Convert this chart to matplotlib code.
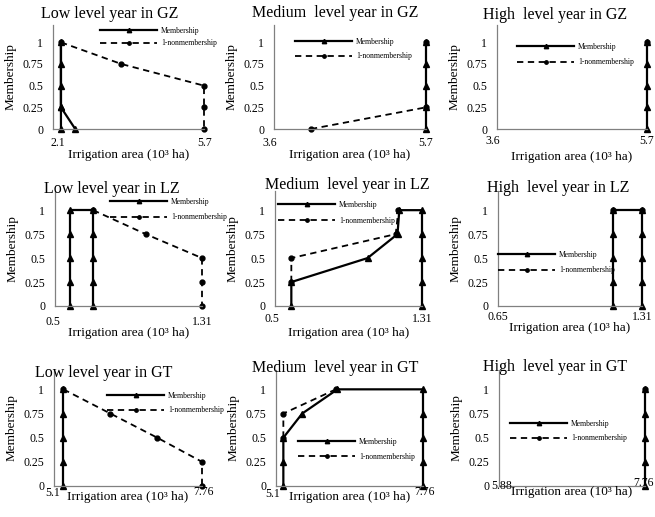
import matplotlib.pyplot as plt

plt.rcParams['font.family'] = ['Liberation Serif', 'DejaVu Serif']

W, H = 655, 517   # figure size in pixels

# Low level year in GZ
gz_low_mem_x = [2.1, 2.1, 2.1, 2.1, 2.1, 2.1, 2.46]
gz_low_mem_y = [0, 0.25, 0.5, 0.75, 1, 0.25, 0]
gz_low_non_x = [2.1, 3.62, 5.7, 5.7, 5.7]
gz_low_non_y = [1, 0.75, 0.5, 0.25, 0]

# Medium level year in GZ
gz_med_mem_x = [5.7, 5.7, 5.7, 5.7, 5.7]
gz_med_mem_y = [0, 0.25, 0.5, 0.75, 1]
gz_med_non_x = [4.11, 5.7, 5.7]
gz_med_non_y = [0, 0.25, 1]

# High level year in GZ
gz_high_mem_x = [5.7, 5.7, 5.7, 5.7, 5.7]
gz_high_mem_y = [0, 0.25, 0.5, 0.75, 1]
gz_high_non_x = [5.7]
gz_high_non_y = [1]

# Low level year in LZ
lz_low_mem_x = [0.58, 0.58, 0.58, 0.58, 0.58, 0.71, 0.71, 0.71, 0.71, 0.71]
lz_low_mem_y = [0, 0.25, 0.5, 0.75, 1, 1, 0.75, 0.5, 0.25, 0]
lz_low_non_x = [0.71, 1.0, 1.31, 1.31, 1.31]
lz_low_non_y = [1, 0.75, 0.5, 0.25, 0]

# Medium level year in LZ
lz_med_mem_x = [0.59, 0.59, 1.01, 1.175, 1.185, 1.31, 1.31, 1.31, 1.31, 1.31]
lz_med_mem_y = [0, 0.25, 0.5, 0.75, 1, 1, 0.75, 0.5, 0.25, 0]
lz_med_non_x = [0.59, 0.59, 1.165, 1.18]
lz_med_non_y = [0.25, 0.5, 0.75, 1]

# High level year in LZ
lz_high_mem_x = [1.175, 1.175, 1.175, 1.175, 1.175, 1.31, 1.31, 1.31, 1.31, 1.31]
lz_high_mem_y = [0, 0.25, 0.5, 0.75, 1, 1, 0.75, 0.5, 0.25, 0]
lz_high_non_x = [1.175, 1.31]
lz_high_non_y = [1, 1]

# Low level year in GT
gt_low_mem_x = [5.1, 5.1, 5.1, 5.1, 5.1]
gt_low_mem_y = [0, 0.25, 0.5, 0.75, 1]
gt_low_non_x = [5.1, 6.0, 6.9, 7.76, 7.76]
gt_low_non_y = [1, 0.75, 0.5, 0.25, 0]

# Medium level year in GT
gt_med_mem_x = [5.1, 5.1, 5.1, 5.46, 6.13, 7.76, 7.76, 7.76, 7.76, 7.76]
gt_med_mem_y = [0, 0.25, 0.5, 0.75, 1, 1, 0.75, 0.5, 0.25, 0]
gt_med_non_x = [5.1, 5.1, 6.1]
gt_med_non_y = [0.5, 0.75, 1]

# High level year in GT
gt_high_mem_x = [7.76, 7.76, 7.76, 7.76, 7.76]
gt_high_mem_y = [0, 0.25, 0.5, 0.75, 1]
gt_high_non_x = [7.76]
gt_high_non_y = [1]

titles = ['Low level year in GZ', 'Medium  level year in GZ', 'High  level year in GZ',
          'Low level year in LZ', 'Medium  level year in LZ', 'High  level year in LZ',
          'Low level year in GT', 'Medium  level year in GT', 'High  level year in GT']
xlims = [(1.9, 5.7), (3.6, 5.7), (3.6, 5.7),
         (0.5, 1.31), (0.5, 1.31), (0.65, 1.31),
         (4.92, 7.76), (4.96, 7.76), (5.88, 7.76)]
xtick_vals = [(2.1, 5.7), (3.6, 5.7), (3.6, 5.7),
              (0.5, 1.31), (0.5, 1.31), (0.65, 1.31),
              (5.1, 7.76), (5.1, 7.76), (5.88, 7.76)]
xtick_labels = [('2.1', '5.7'), ('3.6', '5.7'), ('3.6', '5.7'),
                ('0.5', '1.31'), ('0.5', '1.31'), ('0.65', '1.31'),
                ('5.1', '7.76'), ('5.1', '7.76'), ('5.88', '7.76')]
yticks = [0, 0.25, 0.5, 0.75, 1]
ytick_labels = ['0', '0.25', '0.5', '0.75', '1']

series = [
    (gz_low_mem_x, gz_low_mem_y, gz_low_non_x, gz_low_non_y),
    (gz_med_mem_x, gz_med_mem_y, gz_med_non_x, gz_med_non_y),
    (gz_high_mem_x, gz_high_mem_y, gz_high_non_x, gz_high_non_y),
    (lz_low_mem_x, lz_low_mem_y, lz_low_non_x, lz_low_non_y),
    (lz_med_mem_x, lz_med_mem_y, lz_med_non_x, lz_med_non_y),
    (lz_high_mem_x, lz_high_mem_y, lz_high_non_x, lz_high_non_y),
    (gt_low_mem_x, gt_low_mem_y, gt_low_non_x, gt_low_non_y),
    (gt_med_mem_x, gt_med_mem_y, gt_med_non_x, gt_med_non_y),
    (gt_high_mem_x, gt_high_mem_y, gt_high_non_x, gt_high_non_y),
]

# layout in pixels
col_lr = [[(53, 204), (274, 426), (497, 647)],
          [(55, 202), (275, 422), (498, 642)],
          [(54, 202), (276, 423), (499, 645)]]
row_bt = [(129, 25), (306, 191), (486, 370)]
title_pos = [(110, 14), (335, 13), (555, 15),
             (112, 189), (347, 185), (558, 188),
             (104, 373), (335, 368), (555, 367)]
legend_pos = [(100, 32), (295, 43), (517, 48),
              (110, 203), (278, 206), (498, 256),
              (107, 397), (298, 443), (510, 425)]
legend_sp = [0.55, 0.85, 0.95, 0.95, 1.05, 0.95, 0.85, 0.9, 0.85]
# x tick label offsets (dx, dy) in px for left and right label
tick_off = [((-3, 14), (1, 14)), ((-4, 14), (0, 14)), ((-4, 12), (0, 12)),
            ((-2, 16), (0, 16)), ((-3, 13), (0, 13)), ((0, 11), (0, 11)),
            ((-11, 7), (1, 6)), ((-11, 8), (2, 6)), ((3, 0), (-1, -3))]
xlab_off = [26, 26, 28, 27, 27, 22, 11, 11, 6]

fig = plt.figure(figsize=(W / 100, H / 100), dpi=100)

for i in range(9):
    r, c = divmod(i, 3)
    l, rr = col_lr[r][c]
    b, t = row_bt[r]
    ax = fig.add_axes([l / W, 1 - b / H, (rr - l) / W, (b - t) / H])

    mx, my, nx, ny = series[i]
    ax.plot(mx, my, '-', color='black', lw=1.6, marker='^', ms=4.5,
            clip_on=False, label='Membership')
    ax.plot(nx, ny, '--', color='black', lw=1.3, dashes=(3.5, 2.5), marker='o', ms=3.5,
            clip_on=False, label='1-nonmembership')

    ax.set_xlim(*xlims[i])
    ax.set_ylim(0, 1.2)
    ax.set_yticks(yticks)
    ax.set_yticklabels(ytick_labels)
    ax.set_xticks([])
    for sp in ['top', 'right']:
        ax.spines[sp].set_visible(False)
    for sp in ['left', 'bottom']:
        ax.spines[sp].set_color('#808080')
        ax.spines[sp].set_linewidth(0.9)
    ax.tick_params(axis='y', length=0, pad=7, labelsize=8.5)

    # x tick labels (only the two ends)
    for v, s, (dx, dy) in zip(xtick_vals[i], xtick_labels[i], tick_off[i]):
        ax.annotate(s, xy=(v, 0), xycoords='data',
                    xytext=(dx * 0.72, -dy * 0.72), textcoords='offset points',
                    ha='center', va='center', fontsize=8.5, annotation_clip=False)

    # axis labels
    ax.annotate('Irrigation area (10³ ha)', xy=(0.5, 0), xycoords='axes fraction',
                xytext=(0, -xlab_off[i] * 0.72), textcoords='offset points',
                ha='center', va='center', fontsize=9.5)
    ax.annotate('Membership', xy=(0, 0.5), xycoords='axes fraction',
                xytext=(-42 * 0.72, 0), textcoords='offset points',
                rotation=90, ha='center', va='center', fontsize=9.5)

    tx, ty = title_pos[i]
    fig.text(tx / W, 1 - ty / H, titles[i], ha='center', va='center', fontsize=11.5)

    lx, ly = legend_pos[i]
    ax.legend(loc='upper left', bbox_to_anchor=(lx / W, 1 - (ly - 5) / H),
              bbox_transform=fig.transFigure, frameon=False, fontsize=5.5,
              handlelength=7.5, handletextpad=0.5, labelspacing=legend_sp[i],
              borderpad=0, borderaxespad=0, markerscale=0.7, numpoints=1)

fig.savefig('out.png', dpi=100)
